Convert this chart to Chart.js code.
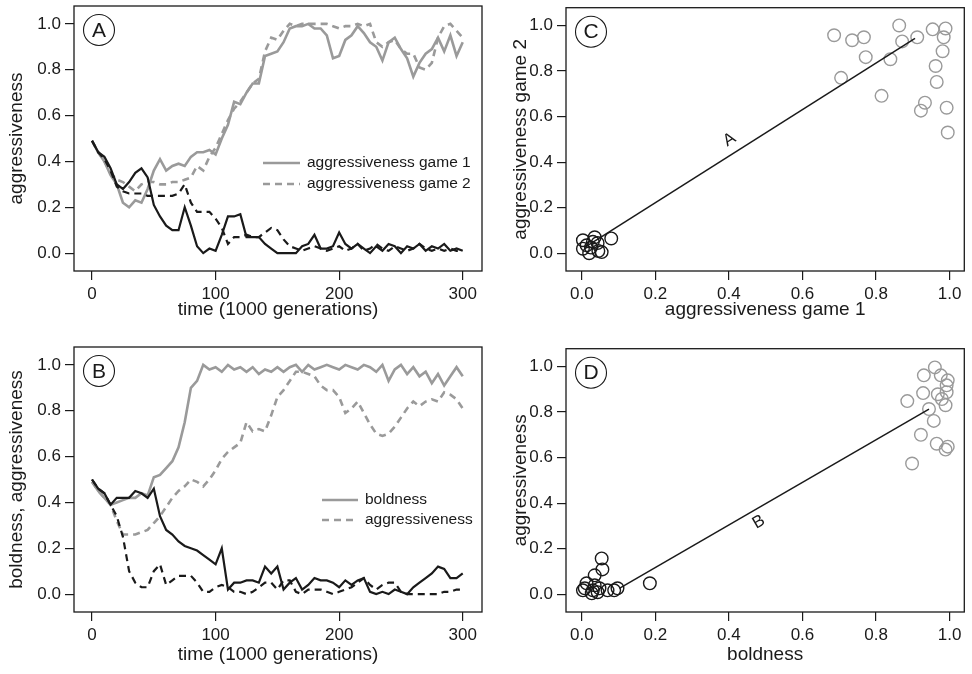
<!DOCTYPE html>
<html>
<head>
<meta charset="utf-8">
<script src="https://cdn.jsdelivr.net/npm/chart.js@4.4.1/dist/chart.umd.min.js"></script>
<style>
  html, body { margin: 0; padding: 0; background: #fff; }
  #wrap { position: relative; width: 972px; height: 674px; overflow: hidden; }
  canvas { position: absolute; }
</style>
</head>
<body>
<div id="wrap">
  <canvas id="chartA" width="486" height="333" style="left:0;top:0"></canvas>
  <canvas id="chartC" width="486" height="333" style="left:486px;top:0"></canvas>
  <canvas id="chartB" width="486" height="333" style="left:0;top:341px"></canvas>
  <canvas id="chartD" width="486" height="333" style="left:486px;top:341px"></canvas>
</div>
<script>
// --- data ---
const timeSteps = [0,5,10,15,20,25,30,35,40,45,50,55,60,65,70,75,80,85,90,95,100,105,110,115,120,125,130,135,140,145,150,
  155,160,165,170,175,180,185,190,195,200,205,210,215,220,225,230,235,240,245,250,255,260,265,270,275,280,285,290,295,300];

// panel A: aggressiveness in two games (grey = one population, black = the other)
const aGame1Grey = [0.49,0.44,0.40,0.34,0.30,0.22,0.20,0.23,0.22,0.28,0.36,0.41,0.36,0.38,0.39,0.38,0.42,0.44,0.44,0.45,
  0.43,0.50,0.56,0.66,0.65,0.70,0.74,0.74,0.86,0.87,0.88,0.92,0.98,0.99,0.99,1.00,0.98,0.98,0.95,0.85,
  0.86,0.93,0.95,0.99,0.96,0.92,0.90,0.84,0.92,0.94,0.89,0.85,0.77,0.83,0.87,0.89,0.94,0.88,0.95,0.86,0.92];
const aGame2Grey = [0.49,0.44,0.40,0.35,0.32,0.31,0.29,0.27,0.30,0.31,0.31,0.30,0.30,0.31,0.31,0.32,0.33,0.38,0.36,0.42,
  0.46,0.52,0.58,0.63,0.66,0.70,0.74,0.76,0.88,0.94,0.93,0.97,1.00,0.99,1.00,1.00,1.00,1.00,1.00,0.99,
  0.98,0.99,0.99,1.00,0.99,1.00,0.92,0.90,0.92,0.93,0.89,0.87,0.87,0.81,0.80,0.83,0.94,0.99,1.00,0.97,0.94];
const aGame1Black = [0.49,0.44,0.42,0.37,0.30,0.28,0.31,0.35,0.37,0.33,0.21,0.16,0.12,0.10,0.10,0.20,0.12,0.03,0.00,0.02,
  0.01,0.08,0.16,0.16,0.17,0.07,0.07,0.07,0.04,0.02,0.00,0.00,0.00,0.00,0.03,0.04,0.08,0.02,0.02,0.03,
  0.09,0.04,0.02,0.04,0.02,0.00,0.03,0.01,0.04,0.03,0.00,0.03,0.02,0.04,0.01,0.03,0.02,0.04,0.01,0.02,0.01];
const aGame2Black = [0.49,0.44,0.41,0.36,0.29,0.27,0.26,0.26,0.26,0.25,0.25,0.25,0.25,0.25,0.26,0.30,0.22,0.18,0.18,0.18,
  0.15,0.11,0.04,0.07,0.07,0.08,0.07,0.07,0.09,0.11,0.10,0.06,0.03,0.02,0.01,0.02,0.03,0.02,0.01,0.02,
  0.03,0.01,0.02,0.04,0.01,0.02,0.04,0.02,0.01,0.03,0.02,0.01,0.02,0.04,0.02,0.01,0.02,0.01,0.02,0.01,0.01];

// panel B: boldness and aggressiveness
const bBoldGrey = [0.49,0.45,0.42,0.39,0.40,0.41,0.42,0.42,0.44,0.43,0.51,0.52,0.55,0.58,0.64,0.75,0.90,0.93,1.00,0.98,
  0.99,0.97,1.00,0.98,0.99,0.97,0.99,0.96,0.98,0.97,0.99,0.97,0.99,1.00,0.97,1.00,0.98,0.99,1.00,0.99,
  0.98,1.00,0.99,0.98,1.00,0.99,0.97,1.00,0.93,0.98,1.00,0.96,0.99,0.95,0.97,0.92,0.96,0.91,0.95,0.99,0.95];
const bAggrGrey = [0.49,0.45,0.42,0.39,0.32,0.26,0.26,0.26,0.27,0.28,0.31,0.34,0.38,0.42,0.45,0.47,0.50,0.49,0.47,0.50,
  0.54,0.59,0.62,0.64,0.66,0.75,0.71,0.72,0.71,0.78,0.86,0.89,0.93,0.97,0.97,0.96,0.95,0.91,0.89,0.89,
  0.86,0.79,0.81,0.84,0.79,0.74,0.70,0.69,0.70,0.73,0.77,0.81,0.84,0.82,0.84,0.85,0.84,0.88,0.87,0.85,0.81];
const bBoldBlack = [0.50,0.46,0.44,0.39,0.42,0.42,0.42,0.45,0.44,0.42,0.46,0.34,0.28,0.26,0.23,0.21,0.20,0.19,0.17,0.15,
  0.13,0.20,0.02,0.05,0.05,0.06,0.06,0.05,0.12,0.09,0.12,0.02,0.05,0.07,0.02,0.04,0.07,0.06,0.06,0.05,
  0.03,0.06,0.04,0.06,0.07,0.01,0.00,0.01,0.00,0.02,0.01,0.00,0.03,0.05,0.07,0.09,0.12,0.11,0.07,0.07,0.09];
const bAggrBlack = [0.50,0.46,0.44,0.39,0.34,0.25,0.10,0.05,0.03,0.03,0.10,0.13,0.04,0.06,0.08,0.08,0.08,0.05,0.01,0.01,
  0.03,0.04,0.03,0.01,0.01,0.00,0.01,0.03,0.05,0.05,0.02,0.06,0.06,0.01,0.00,0.02,0.02,0.02,0.01,0.00,
  0.01,0.02,0.03,0.05,0.07,0.04,0.02,0.04,0.05,0.05,0.01,0.00,0.00,0.00,0.00,0.00,0.00,0.01,0.01,0.02,0.02];

// panel C: game 1 vs game 2
const cGreyX = [0.686,0.735,0.767,0.772,0.705,0.815,0.839,0.863,0.871,0.912,0.954,0.989,0.984,0.981,0.962,0.965,0.933,0.922,0.992,0.995];
const cGreyY = [0.957,0.935,0.948,0.861,0.770,0.691,0.852,1.000,0.930,0.948,0.983,0.987,0.948,0.887,0.822,0.752,0.661,0.626,0.639,0.530];
const cBlackX = [0.003,0.035,0.080,0.003,0.025,0.054,0.043,0.013,0.030,0.045,0.020];
const cBlackY = [0.057,0.070,0.065,0.020,0.025,0.005,0.045,0.035,0.050,0.010,0.000];
const cFitX = [0.008, 0.906];
const cFitY = [0.026, 0.943];

// panel D: boldness vs aggressiveness
const dGreyX = [0.960,0.930,0.976,0.995,0.992,0.928,0.968,0.992,0.979,0.989,0.885,0.944,0.957,0.922,0.965,0.989,0.995,0.898];
const dGreyY = [0.996,0.961,0.961,0.939,0.917,0.883,0.878,0.887,0.857,0.830,0.848,0.813,0.761,0.700,0.661,0.635,0.648,0.574];
const dBlackX = [0.054,0.056,0.035,0.013,0.003,0.008,0.030,0.043,0.048,0.070,0.088,0.097,0.185,0.027,0.035];
const dBlackY = [0.157,0.109,0.083,0.048,0.017,0.026,0.017,0.009,0.026,0.017,0.017,0.026,0.048,0.004,0.039];
const dFitX = [0.102, 0.944];
const dFitY = [0.026, 0.813];

const timeTicks = [0, 100, 200, 300];
const unitTicks = [0, 0.2, 0.4, 0.6, 0.8, 1.0];

// --- styling ---
const FONT = "'Liberation Sans', Arial, Helvetica, sans-serif";
const INK = '#1a1a1a';
const GREY = '#9a9a9a';
const DASH = [7, 5];

function toPoints(xs, ys) {
    return xs.map((x, i) => ({ x: x, y: ys[i] }));
}

function makeAxis(cfg) {
    return {
        type: 'linear',
        min: cfg.min,
        max: cfg.max,
        afterBuildTicks: s => { s.ticks = cfg.ticks.map(v => ({ value: v })); },
        afterFit: s => {
            if (cfg.width) s.width = cfg.width;
            if (cfg.height) s.height = cfg.height;
            // keep the plot box where the figure has it, labels may hang over
            s.paddingTop = 0; s.paddingBottom = 0; s.paddingLeft = 0; s.paddingRight = 0;
        },
        grid: { drawOnChartArea: false, drawTicks: true, tickLength: 9, color: INK, lineWidth: 1.2 },
        border: { display: false },
        ticks: {
            color: INK, font: { family: FONT, size: 17 }, padding: 4,
            maxRotation: 0, autoSkip: false, callback: v => cfg.fmt(v)
        },
        title: {
            display: true, text: cfg.title, color: INK,
            font: { family: FONT, size: 19 },
            padding: cfg.titlePad
        }
    };
}

// box, panel letter, legend and fit label drawn on top of the chart
function makeDecor(opts) {
    return {
        id: 'decor',
        afterDraw(chart) {
            const { ctx, chartArea: a } = chart;
            ctx.save();
            ctx.strokeStyle = INK;
            ctx.lineWidth = 1.3;
            ctx.strokeRect(a.left, a.top, a.right - a.left, a.bottom - a.top);

            // panel letter in a circle
            ctx.beginPath();
            ctx.lineWidth = 1.1;
            ctx.arc(a.left + 25, a.top + 24, 15.5, 0, Math.PI * 2);
            ctx.stroke();
            ctx.fillStyle = INK;
            ctx.font = `21px ${FONT}`;
            ctx.textAlign = 'center';
            ctx.textBaseline = 'middle';
            ctx.fillText(opts.letter, a.left + 25, a.top + 25);

            if (opts.legend) {
                ctx.font = `15.5px ${FONT}`;
                ctx.textAlign = 'left';
                opts.legend.forEach(item => {
                    ctx.beginPath();
                    ctx.strokeStyle = GREY;
                    ctx.lineWidth = 2.6;
                    ctx.setLineDash(item.dash || []);
                    ctx.moveTo(item.x1, item.y);
                    ctx.lineTo(item.x2, item.y);
                    ctx.stroke();
                    ctx.setLineDash([]);
                    ctx.fillStyle = INK;
                    ctx.fillText(item.text, item.x2 + 7, item.y);
                });
            }

            if (opts.fitLabel) {
                // label written along the regression line, above or below it
                const pts = chart.getDatasetMeta(0).data;
                const p0 = pts[0], p1 = pts[1];
                const ang = Math.atan2(p1.y - p0.y, p1.x - p0.x);
                const f = opts.fitLabel.at;
                const px = p0.x + (p1.x - p0.x) * f;
                const py = p0.y + (p1.y - p0.y) * f;
                ctx.translate(px, py);
                ctx.rotate(ang);
                ctx.fillStyle = INK;
                ctx.font = `17px ${FONT}`;
                ctx.textAlign = 'center';
                if (opts.fitLabel.below) {
                    ctx.textBaseline = 'top';
                    ctx.fillText(opts.fitLabel.text, 0, opts.fitLabel.gap);
                } else {
                    ctx.textBaseline = 'bottom';
                    ctx.fillText(opts.fitLabel.text, 0, -opts.fitLabel.gap);
                }
            }
            ctx.restore();
        }
    };
}

const baseOptions = {
    responsive: false,
    animation: false,
    events: [],
    plugins: { legend: { display: false }, tooltip: { enabled: false } }
};

function lineSet(values, color, width, dashed, order) {
    return {
        data: toPoints(timeSteps, values),
        borderColor: color,
        borderWidth: width,
        borderDash: dashed ? DASH : [],
        pointRadius: 0,
        tension: 0,
        fill: false,
        order: order
    };
}

function timeChart(id, sets, yTitle, titlePadBottom, letter, legend) {
    new Chart(document.getElementById(id), {
        type: 'line',
        data: { datasets: sets },
        options: Object.assign({}, baseOptions, {
            layout: { padding: { top: 6, right: 4, left: 0, bottom: 0 } },
            scales: {
                x: makeAxis({ min: -14.6, max: 315.6, ticks: timeTicks, fmt: v => String(v),
                    title: 'time (1000 generations)', height: 62, titlePad: { top: 0, bottom: titlePadBottom } }),
                y: makeAxis({ min: -0.078, max: 1.078, ticks: unitTicks, fmt: v => v.toFixed(1),
                    title: yTitle, width: 74, titlePad: { top: 5.6, bottom: 0 } })
            }
        }),
        plugins: [makeDecor({ letter: letter, legend: legend })]
    });
}

function scatterSet(xs, ys, color, order) {
    return {
        type: 'scatter',
        data: toPoints(xs, ys),
        pointRadius: 6.3,
        pointBorderWidth: 1.4,
        borderColor: color,
        backgroundColor: 'rgba(0,0,0,0)',
        order: order
    };
}

function scatterChart(id, greyX, greyY, blackX, blackY, fitX, fitY, xTitle, yTitle, titlePadBottom, letter, fitLabel) {
    new Chart(document.getElementById(id), {
        type: 'scatter',
        data: {
            datasets: [
                {
                    type: 'line', data: toPoints(fitX, fitY), borderColor: INK, borderWidth: 1.5,
                    pointRadius: 0, tension: 0, fill: false, order: 0
                },
                scatterSet(greyX, greyY, GREY, 2),
                scatterSet(blackX, blackY, INK, 1)
            ]
        },
        options: Object.assign({}, baseOptions, {
            layout: { padding: { top: 6, right: 2, left: 0, bottom: 0 } },
            scales: {
                x: makeAxis({ min: -0.043, max: 1.040, ticks: unitTicks, fmt: v => v.toFixed(1),
                    title: xTitle, height: 62, titlePad: { top: 0, bottom: titlePadBottom } }),
                y: makeAxis({ min: -0.078, max: 1.078, ticks: unitTicks, fmt: v => v.toFixed(1),
                    title: yTitle, width: 80, titlePad: { top: 23.6, bottom: 0 } })
            }
        }),
        plugins: [makeDecor({ letter: letter, fitLabel: fitLabel })]
    });
}

timeChart('chartA', [
    lineSet(aGame1Grey, GREY, 2.6, false, 4),
    lineSet(aGame2Grey, GREY, 2.6, true, 3),
    lineSet(aGame1Black, INK, 2.2, false, 2),
    lineSet(aGame2Black, INK, 2.2, true, 1)
], 'aggressiveness', 11.6, 'A', [
    { x1: 263, x2: 300, y: 163, text: 'aggressiveness game 1' },
    { x1: 263, x2: 300, y: 184, text: 'aggressiveness game 2', dash: DASH }
]);

timeChart('chartB', [
    lineSet(bBoldGrey, GREY, 2.6, false, 4),
    lineSet(bAggrGrey, GREY, 2.6, true, 3),
    lineSet(bBoldBlack, INK, 2.2, false, 1),
    lineSet(bAggrBlack, INK, 2.2, true, 2)
], 'boldness, aggressiveness', 7.6, 'B', [
    { x1: 322, x2: 358, y: 159, text: 'boldness' },
    { x1: 322, x2: 358, y: 179, text: 'aggressiveness', dash: DASH }
]);

scatterChart('chartC', cGreyX, cGreyY, cBlackX, cBlackY, cFitX, cFitY,
    'aggressiveness game 1', 'aggressiveness game 2', 11.6, 'C', { text: 'A', at: 0.46, gap: 5 });
scatterChart('chartD', dGreyX, dGreyY, dBlackX, dBlackY, dFitX, dFitY,
    'boldness', 'aggressiveness', 7.6, 'D', { text: 'B', at: 0.43, gap: 4, below: true });
</script>
</body>
</html>
